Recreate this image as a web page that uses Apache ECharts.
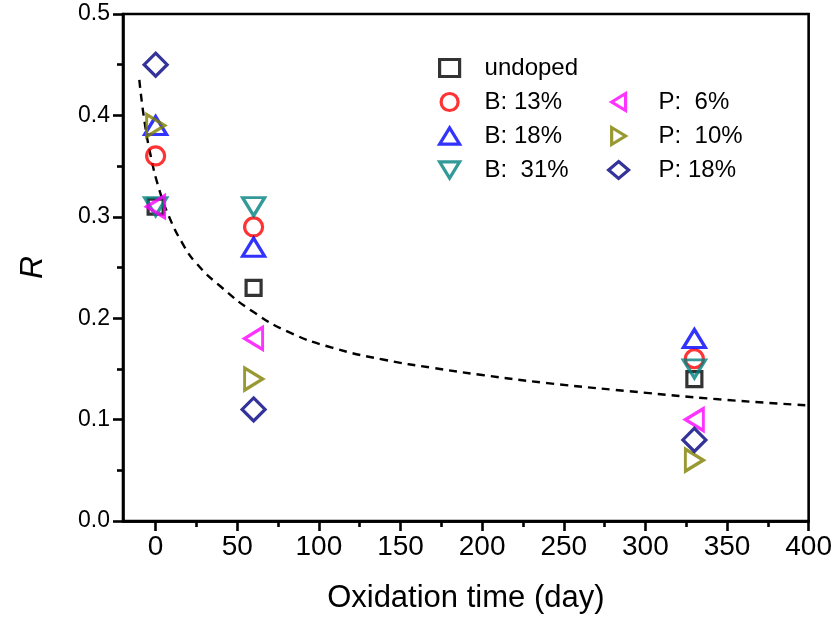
<!DOCTYPE html>
<html><head><meta charset="utf-8">
<script src="https://cdn.jsdelivr.net/npm/echarts@6/dist/echarts.min.js"></script>
<style>html,body{margin:0;padding:0;background:#fff}#c{width:835px;height:621px}</style>
</head><body><div id="c"></div>
<script>
// ---- data ----
const days = [0, 60, 330];
const undoped = [0.31, 0.23, 0.14];
const b13 = [0.36, 0.29, 0.16];
const b18 = [0.39, 0.27, 0.18];
const b31 = [0.31, 0.31, 0.15];
const p6 = [0.31, 0.18, 0.10];
const p10 = [0.39, 0.14, 0.06];
const p18 = [0.45, 0.11, 0.08];
// dashed fit curve
const fitDays = [-10, -7, -3, 2, 8, 16, 25, 40, 60, 82, 108, 140, 170, 200, 240, 290, 345, 400];
const fitR = [0.435, 0.396, 0.360, 0.328, 0.301, 0.275, 0.254, 0.231, 0.206, 0.186, 0.171, 0.159, 0.151, 0.144, 0.136, 0.128, 0.120, 0.114];
const xTickLabels = [0, 50, 100, 150, 200, 250, 300, 350, 400];
const xMinorTicks = [25, 75, 125, 175, 225, 275, 325, 375];
const seriesNames = ['undoped', 'B: 13%', 'B: 18%', 'B:  31%', 'P:  6%', 'P:  10%', 'P: 18%'];
const seriesValues = [undoped, b13, b18, b31, p6, p10, p18];

// ---- styles ----
const styles = [
  {symbol: 'rect', size: 15, rot: 0, color: '#000000', icon: 'rect'},
  {symbol: 'circle', size: 18, rot: 0, color: '#ff0000', icon: 'circle'},
  {symbol: 'triangle', size: [22, 18], rot: 0, color: '#0000ff', icon: 'path://M11,0L22,18L0,18Z'},
  {symbol: 'triangle', size: [22, 18], rot: 180, color: '#008080', icon: 'path://M0,0L22,0L11,18Z'},
  {symbol: 'triangle', size: [22, 18], rot: 90, color: '#ff00ff', icon: 'path://M0,11L18,0L18,22Z'},
  {symbol: 'triangle', size: [22, 18], rot: -90, color: '#808000', icon: 'path://M0,0L18,11L0,22Z'},
  {symbol: 'diamond', size: 23, rot: 0, color: '#000080', icon: 'diamond'}
];
const FONT = "'Liberation Sans', Arial, sans-serif";

const series = seriesNames.map((name, i) => ({
  name: name,
  type: 'scatter',
  xAxisIndex: 0, yAxisIndex: 0,
  symbol: styles[i].symbol,
  symbolSize: styles[i].size,
  symbolRotate: styles[i].rot,
  itemStyle: {color: 'rgba(0,0,0,0)', borderColor: styles[i].color, borderWidth: 3.2},
  emphasis: {disabled: true},
  data: days.map((d, j) => [d, seriesValues[i][j]]),
  z: 3 + i
}));
series.unshift({
  name: 'fit', type: 'line', smooth: 0.5, symbol: 'none',
  xAxisIndex: 0, yAxisIndex: 0,
  lineStyle: {color: '#000', width: 2.4, type: [8, 6]},
  data: fitDays.map((d, j) => [d, fitR[j]]),
  z: 2, silent: true
});

function legendData(from, to) {
  return seriesNames.slice(from, to).map((n, k) => ({
    name: n, icon: styles[from + k].icon, symbolRotate: 0,
    itemStyle: {color: 'rgba(0,0,0,0)', borderColor: styles[from + k].color, borderWidth: 3.2}
  }));
}

const chart = echarts.init(document.getElementById('c'), null, {renderer: 'canvas'});
const commonX = {
  type: 'value', min: -20, max: 400, position: 'bottom',
  splitLine: {show: false},
  axisLine: {show: true, onZero: false, lineStyle: {color: '#000', width: 2.6}}
};
chart.setOption({
  animation: false,
  backgroundColor: '#ffffff',
  grid: {left: 123, right: 24, top: 14, bottom: 100, show: true, borderColor: '#000', borderWidth: 2.6, backgroundColor: 'transparent'},
  legend: [
    {
      data: legendData(0, 4), orient: 'vertical', left: 433, top: 51,
      itemWidth: 20, itemHeight: 17, itemGap: 10, selectedMode: false,
      textStyle: {fontFamily: FONT, fontSize: 24, color: '#000', lineHeight: 24, padding: [0, 0, 0, 20]}
    },
    {
      data: legendData(4, 7), orient: 'vertical', left: 602, top: 85,
      itemWidth: 20, itemHeight: 17, itemGap: 10, selectedMode: false,
      textStyle: {fontFamily: FONT, fontSize: 24, color: '#000', lineHeight: 24, padding: [0, 0, 0, 25]}
    }
  ],
  xAxis: [
    Object.assign({}, commonX, {
      name: 'Oxidation time (day)', nameLocation: 'middle', nameGap: 62,
      nameTextStyle: {fontFamily: FONT, fontSize: 31, color: '#000'},
      axisTick: {show: true, inside: false, length: 10, lineStyle: {color: '#000', width: 2.6}, customValues: xTickLabels},
      axisLabel: {show: true, margin: 12, fontFamily: "'Liberation Sans Narrow', 'Liberation Sans', Arial, sans-serif", fontSize: 28, color: '#000', customValues: xTickLabels}
    }),
    Object.assign({}, commonX, {
      axisTick: {show: true, inside: false, length: 6, lineStyle: {color: '#000', width: 2.6}, customValues: xMinorTicks},
      axisLabel: {show: false}
    })
  ],
  yAxis: {
    type: 'value', min: 0, max: 0.5, interval: 0.1,
    name: 'R', nameLocation: 'middle', nameGap: 74,
    nameTextStyle: {fontFamily: FONT, fontSize: 32, fontStyle: 'italic', color: '#000'},
    splitLine: {show: false},
    axisLine: {show: true, onZero: false, lineStyle: {color: '#000', width: 2.6}},
    axisTick: {show: true, inside: false, length: 10, lineStyle: {color: '#000', width: 2.6}},
    minorTick: {show: true, splitNumber: 2, length: 6, lineStyle: {color: '#000', width: 2.6}},
    axisLabel: {margin: 13, fontFamily: FONT, fontSize: 23, color: '#000', formatter: v => v.toFixed(1)}
  },
  series: series
});
</script>
</body></html>
